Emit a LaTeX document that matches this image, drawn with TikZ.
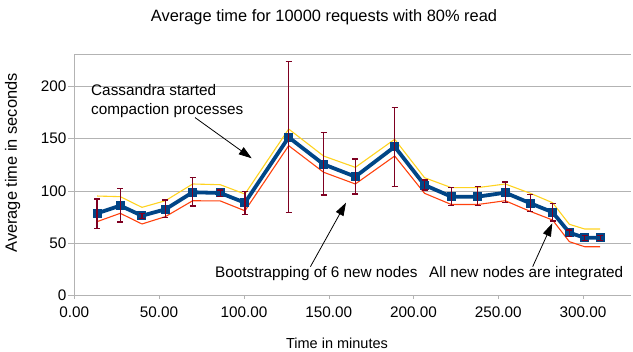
\documentclass[tikz,border=0pt]{standalone}
\usepackage{fontspec}
\setmainfont{Liberation Sans}
\usetikzlibrary{arrows.meta}
\definecolor{serblue}{HTML}{004586}
\definecolor{seryellow}{HTML}{FFD320}
\definecolor{serorange}{HTML}{FF420E}
\definecolor{errred}{HTML}{7E0021}
\definecolor{gridgray}{HTML}{B3B3B3}
\begin{document}
\begin{tikzpicture}[x=1pt,y=1pt,
    annot/.style={-{Triangle[length=13pt,width=8.5pt]},line width=0.8pt},
    lbl/.style={font=\fontsize{15.3}{18.3}\selectfont,inner sep=0pt}]
    \useasboundingbox(0,0)rectangle(633,352);
    % titles
    \node[inner sep=0pt,font=\fontsize{16.4}{19}\selectfont](title)at(324,335){Average time for 10000 requests with 80\% read};
    \node[inner sep=0pt,rotate=90,font=\fontsize{16.4}{19}\selectfont](ylab)at(12.7,189){Average time in seconds};
    \node[inner sep=0pt,font=\fontsize{14.5}{17}\selectfont](xlab)at(337,9){Time in minutes};
    \begin{scope}[shift={(74.3,56.5)},x=1.696pt,y=1.047pt]
        \foreach \y in{50,100,150,200,230}\draw[gridgray](0,\y)--(328,\y);
        \draw[gridgray](0,0)--(328,0);
        \draw[gridgray](0,0)--(0,230);
        \foreach \y in{0,50,...,200}{\draw[gridgray](-3.7,\y)--(0,\y);\node[lbl,anchor=east]at(-4.5,\y){\y};}
        \foreach \x in{0,50,...,300}{\draw[gridgray](\x,0)--(\x,-3);\node[lbl]at(\x,-16.4){\x.00};}
        % upper and lower curves
        \draw[seryellow,line width=1.1pt,line join=round]plot coordinates{(13.4,95)(27.1,94.4)(39.9,84.2)(53.7,90.5)(69.8,106.5)(86.1,105.8)(100.6,96.9)(126.4,159)(147,133.2)(165.7,122.4)(188.9,149.2)(206.5,112.5)(222.3,103)(237.8,103)(254.1,106.5)(268.9,97.6)(282,88.6)(291.9,68)(300.9,63.5)(310.1,63.5)};
        \draw[serorange,line width=1.1pt,line join=round]plot coordinates{(13.4,70.5)(27.1,78.5)(39.9,68.3)(53.7,75.3)(69.8,90.5)(86.1,90.3)(100.6,80.9)(126.4,143.1)(147,117.7)(165.7,106.5)(188.9,133.2)(206.5,97.6)(222.3,86.9)(237.8,86.9)(254.1,90.5)(268.9,80.3)(282,72.1)(291.9,51.4)(300.9,46.6)(310.1,46.6)};
        % mean values
        \draw[serblue,line width=3.8pt,line join=round]plot coordinates{(13.4,78.5)(27.1,85.8)(39.9,76.2)(53.7,82.3)(69.8,98.6)(86.1,97.9)(100.6,88.6)(126.4,151.1)(147,125.3)(165.7,113.5)(188.9,142.1)(206.5,105.5)(222.3,94.4)(237.8,94.4)(254.1,98.2)(268.9,88.1)(282,79.5)(291.9,60)(300.9,55.2)(310.1,55.2)};
        \foreach \x/\y in{13.4/78.5,27.1/85.8,39.9/76.2,53.7/82.3,69.8/98.6,86.1/97.9,100.6/88.6,126.4/151.1,147/125.3,165.7/113.5,188.9/142.1,206.5/105.5,222.3/94.4,237.8/94.4,254.1/98.2,268.9/88.1,282/79.5,291.9/60,300.9/55.2,310.1/55.2}
            \fill[serblue]([shift={(-4.5pt,-4.5pt)}]\x,\y)rectangle++(9pt,9pt);
        % error bars
        \foreach \x/\lo/\hi in{13.4/64.2/92.2,27.1/70.2/102,39.9/73.7/78.5,53.7/74.3/91.2,69.8/85.5/112.5,86.1/94.4/100.8,100.6/77.2/99.5,126.4/79.1/223.3,147/96/155.9,165.7/96.9/130.4,188.9/103.9/179.4,206.5/100.8/110.3,222.3/85.8/103,237.8/85.8/103.9,254.1/89/108.4,268.9/80/96.7,282/71.2/88.1,291.9/56.2/62.6,300.9/52.3/57.1,310.1/52.3/57.1}
            \draw[errred,line width=1.4pt]([xshift=-3pt]\x,\lo)--([xshift=3pt]\x,\lo)(\x,\lo)--(\x,\hi)([xshift=-3pt]\x,\hi)--([xshift=3pt]\x,\hi);
    \end{scope}
    % annotations
    \node[lbl,anchor=north west,align=left](cass)at(91,267.4){Cassandra started\\compaction processes};
    \node[lbl,anchor=base west](boot)at(215,74){Bootstrapping of 6 new nodes};
    \node[lbl,anchor=base west](integ)at(429,74){All new nodes are integrated};
    \coordinate(tipcass)at(251.7,193.7);
    \coordinate(tipboot)at(346,149.3);
    \coordinate(tipinteg)at(552.3,128.7);
    \draw[annot]([xshift=27.7pt]cass.south)--(tipcass);
    \draw[annot]([xshift=-6pt]boot.north)--(tipboot);
    \draw[annot]([xshift=6.5pt]integ.north)--(tipinteg);
\end{tikzpicture}
\end{document}
